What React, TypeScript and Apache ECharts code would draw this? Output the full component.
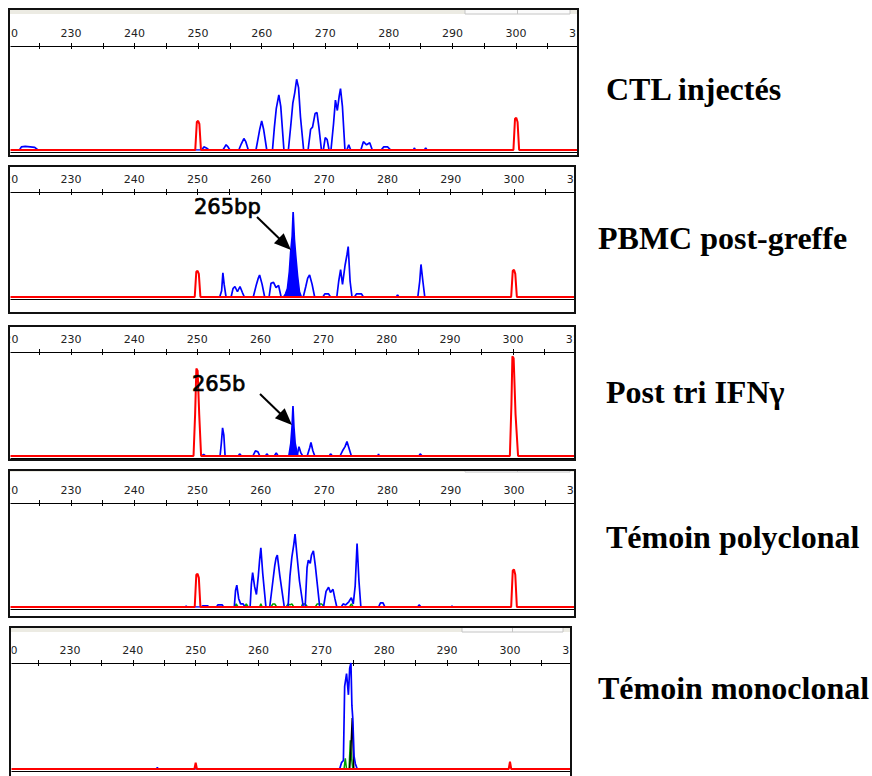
import React, { useEffect, useRef } from "react";
import * as echarts from "echarts";

type Pt = [number, number];

// ---------- axis ----------
const AXIS_MIN = 220;
const AXIS_MAX = 310;
const TICK_STEP = 5;
const LABEL_STEP = 10;

// ---------- texts ----------
const panelTitles = ["CTL injectés", "PBMC post-greffe", "Post tri IFNγ", "Témoin polyclonal", "Témoin monoclonal"];
const peakLabels = ["", "265bp", "265b", "", ""];

// ---------- data: [size (bp), signal (% of panel height)] ----------
// Panel 1 : CTL injectés
const ctlBlue: Pt[] = [
  [220.3, 0], [221.9, 0], [222.2, 3], [222.8, 3.5], [223.6, 3], [224.3, 2.5], [224.8, 0],
  [250.6, 0], [250.9, 3], [251.3, 2], [251.7, 0],
  [253.9, 0], [254.2, 3], [254.4, 5], [254.7, 3], [255.0, 0],
  [256.4, 0], [256.8, 6], [257.2, 11], [257.5, 8], [257.9, 0],
  [259.1, 0], [259.4, 10], [259.7, 20], [260.0, 28], [260.3, 20], [260.8, 0],
  [261.7, 0], [262.0, 22], [262.3, 40], [262.7, 53], [263.0, 42], [263.5, 0],
  [264.2, 0], [264.6, 25], [264.9, 45], [265.2, 55], [265.5, 68], [265.8, 60], [266.1, 32], [266.6, 0],
  [267.3, 0], [267.7, 20], [268.0, 22], [268.4, 35], [268.7, 36], [269.0, 22], [269.4, 0],
  [269.7, 0], [270.0, 12], [270.3, 10], [270.6, 0],
  [270.9, 0], [271.3, 25], [271.6, 48], [271.9, 38], [272.2, 52], [272.4, 59], [272.7, 42], [273.1, 0],
  [273.4, 0], [273.7, 5], [274.0, 0],
  [275.6, 0], [276.0, 8], [276.5, 5], [277.0, 7], [277.4, 0],
  [278.8, 0], [279.2, 3], [279.8, 3], [280.3, 0],
  [283.9, 0], [284.0, 2], [284.2, 0],
  [285.6, 0], [285.8, 2], [286.0, 0],
];
const ctlRed: Pt[] = [
  [220, 0], [249.55, 0], [249.8, 27], [250.0, 28], [250.2, 25], [250.45, 0],
  [299.6, 0], [299.85, 30], [300.05, 31], [300.25, 27], [300.5, 0], [310, 0],
];

// Panel 2 : PBMC post-greffe
const pbmcBlue: Pt[] = [
  [253.5, 0], [253.8, 6], [254.0, 23], [254.2, 12], [254.5, 0],
  [255.3, 0], [255.6, 8], [255.9, 10], [256.3, 5], [256.7, 10], [257.1, 4], [257.4, 0],
  [258.8, 0], [259.3, 12], [259.6, 18], [259.8, 21], [260.2, 12], [260.6, 0],
  [261.3, 0], [261.6, 13], [262.0, 14], [262.4, 9], [262.8, 11], [263.2, 0],
  [266.7, 0], [267.1, 10], [267.4, 18], [267.7, 21], [268.1, 12], [268.5, 0],
  [269.8, 0], [270.1, 3], [270.7, 3], [271.0, 0],
  [272.0, 0], [272.3, 15], [272.6, 26], [272.9, 12], [273.3, 30], [273.6, 40], [273.8, 48], [274.1, 15], [274.4, 0],
  [274.8, 0], [275.1, 3], [275.9, 3], [276.2, 0],
  [281.4, 0], [281.6, 2], [281.8, 0],
  [284.8, 0], [285.1, 15], [285.3, 31], [285.6, 15], [285.9, 0],
];
const pbmcPeak: Pt[] = [
  [263.6, 0], [263.9, 3], [264.2, 8], [264.5, 24], [264.7, 42], [264.95, 58], [265.1, 81],
  [265.3, 55], [265.5, 40], [265.8, 20], [266.1, 5], [266.4, 0],
];
const pbmcRed: Pt[] = [
  [220, 0], [249.55, 0], [249.8, 24], [250.0, 25], [250.2, 22], [250.45, 0],
  [299.55, 0], [299.8, 25], [300.0, 26], [300.2, 22], [300.45, 0], [310, 0],
];

// Panel 3 : Post tri IFNγ
const ifnBlue: Pt[] = [
  [250.7, 0], [251.0, 1.5], [251.3, 0],
  [253.6, 0], [253.8, 12], [254.0, 27], [254.2, 20], [254.4, 0],
  [256.5, 0], [256.7, 2], [257.0, 0],
  [258.8, 0], [259.2, 5], [259.6, 4], [259.9, 0],
  [260.8, 0], [261.0, 2], [261.3, 0],
  [262.2, 0], [262.5, 3], [262.8, 0],
  [265.8, 0], [266.1, 9], [266.4, 3], [266.7, 0],
  [267.4, 0], [267.8, 8], [268.0, 13], [268.3, 5], [268.6, 0],
  [270.9, 0], [271.1, 2], [271.4, 0],
  [272.6, 0], [273.0, 5], [273.4, 9], [273.7, 14], [274.0, 8], [274.4, 0],
  [278.6, 0], [278.7, 2], [278.8, 0],
  [285.1, 0], [285.3, 2], [285.6, 0],
];
const ifnPeak: Pt[] = [
  [264.5, 0], [264.8, 12], [265.0, 28], [265.15, 48], [265.3, 28], [265.5, 12], [265.7, 6], [265.9, 0],
];
const ifnRed: Pt[] = [
  [220, 0], [249.4, 0], [249.65, 40], [249.85, 84], [250.05, 82], [250.3, 40], [250.6, 0],
  [299.5, 0], [299.75, 50], [299.9, 96], [300.1, 94], [300.4, 40], [300.8, 0], [310, 0],
];

// Panel 4 : Témoin polyclonal
const polyBlue: Pt[] = [
  [248.1, 0], [248.2, 1], [248.3, 0],
  [250.6, 0], [250.8, 1], [251.6, 1], [251.8, 0],
  [253.0, 0], [253.2, 2], [253.9, 2], [254.1, 0],
  [255.8, 0], [256.0, 16], [256.2, 21], [256.5, 8], [256.8, 3], [257.2, 3], [257.5, 0],
  [258.3, 0], [258.5, 22], [258.7, 33], [259.0, 20], [259.3, 12], [259.6, 30], [259.8, 45], [260.0, 57], [260.3, 32], [260.8, 0],
  [261.4, 0], [261.9, 25], [262.2, 40], [262.4, 47], [262.6, 50], [263.0, 30], [263.7, 0],
  [264.3, 0], [264.6, 30], [264.9, 48], [265.2, 60], [265.4, 70], [265.7, 50], [266.1, 25], [266.7, 0],
  [267.0, 0], [267.3, 38], [267.5, 45], [267.8, 42], [268.0, 50], [268.3, 54], [268.6, 40], [269.3, 0],
  [269.9, 0], [270.3, 15], [270.7, 19], [271.0, 14], [271.4, 17], [271.7, 8], [272.0, 0],
  [272.7, 0], [273.0, 3], [273.4, 2], [273.9, 5], [274.3, 9], [274.6, 3], [274.9, 20], [275.2, 61], [275.5, 25], [275.8, 0],
  [278.6, 0], [278.9, 4], [279.3, 4], [279.6, 0],
  [284.8, 0], [285.0, 2], [285.3, 0],
  [290.1, 0], [290.2, 1], [290.3, 0],
];
const polyGreen: Pt[] = [
  [255.9, 0], [256.1, 3], [256.4, 0], [257.4, 0], [257.7, 3], [258.0, 0], [259.8, 0], [260.0, 3], [260.2, 0],
  [261.6, 0], [261.9, 3], [262.2, 3], [262.5, 0], [264.0, 0], [264.3, 3], [264.6, 2], [264.9, 3], [265.2, 0],
  [266.4, 0], [266.6, 3], [267.0, 3], [267.4, 0], [268.6, 0], [268.9, 3], [269.6, 3], [270.0, 0],
  [274.0, 0], [274.3, 3], [274.6, 0],
];
const polyRed: Pt[] = [
  [220, 0], [249.55, 0], [249.8, 31], [250.0, 32], [250.2, 28], [250.45, 0],
  [299.55, 0], [299.8, 35], [300.0, 36], [300.2, 31], [300.45, 0], [310, 0],
];

// Panel 5 : Témoin monoclonal
const monoBlue: Pt[] = [
  [243.8, 0], [243.9, 1.5], [244.0, 0],
  [272.9, 0], [273.2, 6], [273.5, 8], [273.7, 78], [274.0, 90], [274.3, 70], [274.5, 95], [274.7, 100],
  [274.85, 60], [275.0, 47], [275.2, 12], [275.4, 5], [275.7, 0],
];
const monoBlack: Pt[] = [[274.5, 0], [274.7, 20], [274.9, 48], [275.0, 30], [275.15, 0]];
const monoGreen: Pt[] = [[273.6, 0], [273.8, 10], [274.0, 0], [274.4, 0], [274.6, 27], [274.8, 10], [275.0, 0]];
const monoRed: Pt[] = [
  [220, 0], [249.8, 0], [250.0, 6], [250.2, 0], [299.8, 0], [300.0, 7], [300.2, 0], [310, 0],
];

const panels = [
  { blue: ctlBlue, fill: [] as Pt[], green: [] as Pt[], black: [] as Pt[], red: ctlRed },
  { blue: pbmcBlue, fill: pbmcPeak, green: [] as Pt[], black: [] as Pt[], red: pbmcRed },
  { blue: ifnBlue, fill: ifnPeak, green: [] as Pt[], black: [] as Pt[], red: ifnRed },
  { blue: polyBlue, fill: [] as Pt[], green: polyGreen, black: [] as Pt[], red: polyRed },
  { blue: monoBlue, fill: [] as Pt[], green: monoGreen, black: monoBlack, red: monoRed },
];

// ---------- layout (pixels) ----------
const LAYOUT = [
  { fx: 9, fy: 9, fw: 569, fh: 147, axisY: 46, baseY: 150, x0: 7.4, ppb: 6.357, strip: 5, box: [465, 570] },
  { fx: 9, fy: 166, fw: 566, fh: 147, axisY: 192, baseY: 297, x0: 7.7, ppb: 6.329, strip: 0, box: null },
  { fx: 9, fy: 326, fw: 566, fh: 134, axisY: 352, baseY: 456, x0: 7.9, ppb: 6.314, strip: 0, box: null },
  { fx: 9, fy: 470, fw: 566, fh: 147, axisY: 503, baseY: 607, x0: 7.7, ppb: 6.329, strip: 2, box: [465, 570] },
  { fx: 10, fy: 627, fw: 561, fh: 160, axisY: 663, baseY: 769, x0: 7.1, ppb: 6.286, strip: 5, box: [462, 563] },
];
const TITLE_POS = [
  [606, 89], [598, 238], [606, 392], [606, 537], [598, 688],
];
const ANNOT = [
  null,
  { tx: 194, ty: 207, x1: 257, y1: 217, x2: 291, y2: 250 },
  { tx: 192, ty: 384, x1: 260, y1: 394, x2: 292, y2: 425 },
  null,
  null,
];

function arrow(x1: number, y1: number, x2: number, y2: number) {
  const dx = x2 - x1, dy = y2 - y1;
  const len = Math.sqrt(dx * dx + dy * dy);
  const ux = dx / len, uy = dy / len;
  const head = 17, hw = 7;
  const bx = x2 - ux * head, by = y2 - uy * head;
  return [
    { type: "line", z: 70, shape: { x1, y1, x2: bx + ux * 2, y2: by + uy * 2 }, style: { stroke: "#000", lineWidth: 2 } },
    {
      type: "polygon", z: 70,
      shape: { points: [[x2, y2], [bx - uy * hw, by + ux * hw], [bx + uy * hw, by - ux * hw]] },
      style: { fill: "#000" },
    },
  ];
}

export default function App() {
  const ref = useRef<HTMLDivElement>(null);
  useEffect(() => {
    const chart = echarts.init(ref.current!, null, { renderer: "svg" });
    const grid: any[] = [], xAxis: any[] = [], yAxis: any[] = [], series: any[] = [], graphic: any[] = [];
    LAYOUT.forEach((L, i) => {
      grid.push({
        left: L.x0, top: L.axisY, width: (AXIS_MAX - AXIS_MIN) * L.ppb, height: L.baseY - L.axisY,
        containLabel: false, outerBoundsMode: "none",
      });
      const base = { gridIndex: i, type: "value", min: AXIS_MIN, max: AXIS_MAX, interval: TICK_STEP, splitLine: { show: false } };
      xAxis.push({
        ...base, position: "top",
        axisLine: { show: true, onZero: false, lineStyle: { color: "#000", width: 1 } },
        axisTick: { show: true, inside: false, length: 3, lineStyle: { color: "#000", width: 1 } },
        axisLabel: {
          show: true, margin: 7, color: "#222", fontSize: 11, fontFamily: "DejaVu Sans",
          showMinLabel: true, showMaxLabel: true, hideOverlap: false,
          formatter: (v: number) => (Math.round(v) % LABEL_STEP === 0 ? String(Math.round(v)) : ""),
        },
      });
      xAxis.push({
        ...base, position: "top",
        axisLine: { show: false, onZero: false },
        axisTick: { show: true, inside: true, length: 3, lineStyle: { color: "#000", width: 1 } },
        axisLabel: { show: false },
      });
      xAxis.push({
        ...base, position: "bottom", offset: 2,
        axisLine: { show: true, onZero: false, lineStyle: { color: "#000", width: 1 } },
        axisTick: { show: false }, axisLabel: { show: false },
      });
      yAxis.push({ gridIndex: i, type: "value", min: 0, max: 100, show: false });

      const P = panels[i];
      const common = { type: "line", xAxisIndex: i * 3, yAxisIndex: i, showSymbol: false, symbol: "none", silent: true };
      if (P.green.length) series.push({ ...common, z: 2, data: P.green, lineStyle: { color: "#00a000", width: 1.5 } });
      if (P.black.length) series.push({ ...common, z: 3, data: P.black, lineStyle: { color: "#000", width: 1.5 } });
      series.push({ ...common, z: 4, data: P.blue, lineStyle: { color: "#0000ff", width: 1.7 } });
      if (P.fill.length)
        series.push({ ...common, z: 4, data: P.fill, lineStyle: { color: "#0000ff", width: 1.7 }, areaStyle: { color: "#0000ff", opacity: 1 } });
      series.push({ ...common, z: 5, data: P.red, lineStyle: { color: "#ff0000", width: 2 } });

      // covers outside the frame
      graphic.push({ type: "rect", z: 50, shape: { x: 0, y: L.fy - 3, width: L.fx + 1.5, height: L.fh + 6 }, style: { fill: "#fff" } });
      graphic.push({ type: "rect", z: 50, shape: { x: L.fx + L.fw + 1, y: L.fy - 3, width: 20, height: L.fh + 6 }, style: { fill: "#fff" } });
      if (L.strip) {
        graphic.push({ type: "rect", z: 55, shape: { x: L.fx, y: L.fy, width: L.fw, height: L.strip }, style: { fill: "#ecebe3" } });
        if (L.box) {
          graphic.push({ type: "rect", z: 56, shape: { x: L.box[0], y: L.fy, width: L.box[1] - L.box[0], height: L.strip }, style: { fill: "#fbfbfb", stroke: "#c4c4c4", lineWidth: 1 } });
          const mid = (L.box[0] + L.box[1]) / 2;
          graphic.push({ type: "line", z: 57, shape: { x1: mid, y1: L.fy, x2: mid, y2: L.fy + L.strip }, style: { stroke: "#c4c4c4", lineWidth: 1 } });
        }
      }
      graphic.push({ type: "rect", z: 60, shape: { x: L.fx, y: L.fy, width: L.fw, height: L.fh }, style: { fill: "none", stroke: "#111", lineWidth: 2 } });

      graphic.push({
        type: "text", z: 70, x: TITLE_POS[i][0], y: TITLE_POS[i][1],
        style: { text: panelTitles[i], font: 'bold 32px "Liberation Serif"', fill: "#000", verticalAlign: "middle" },
      });
      const A = ANNOT[i];
      if (A && peakLabels[i]) {
        graphic.push({
          type: "text", z: 70, x: A.tx, y: A.ty,
          style: { text: peakLabels[i], font: '21px "DejaVu Sans"', fill: "#000", stroke: "#000", lineWidth: 0.7, verticalAlign: "middle" },
        });
        graphic.push(...arrow(A.x1, A.y1, A.x2, A.y2));
      }
    });

    chart.setOption({ animation: false, backgroundColor: "#fff", grid, xAxis, yAxis, series, graphic });
    return () => chart.dispose();
  }, []);
  return <div ref={ref} style={{ position: "absolute", left: 0, top: 0, width: 872, height: 776 }} />;
}
